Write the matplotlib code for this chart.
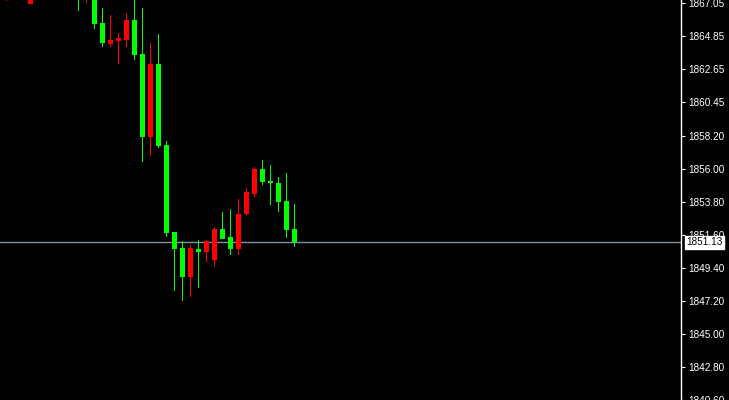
import numpy as np
import matplotlib
matplotlib.use("Agg")
import matplotlib.pyplot as plt
from matplotlib.collections import PolyCollection

# candle data (bars 0..36); the first bars sit above the visible window
opens = [1867.90, 1868.30, 1868.70, 1867.00, 1867.90, 1868.50, 1868.90, 1868.30, 1867.90, 1868.30,
         1867.45, 1867.70, 1865.73, 1864.33, 1864.53, 1864.60, 1865.93, 1863.66, 1858.13, 1863.00,
         1857.60, 1851.80, 1850.73, 1848.80, 1850.66, 1850.46, 1849.93, 1852.00, 1851.46, 1850.66,
         1853.00, 1854.33, 1856.00, 1855.20, 1855.06, 1853.86, 1852.00]
highs = [1868.60, 1869.00, 1869.20, 1868.40, 1868.80, 1869.30, 1869.40, 1868.70, 1868.60, 1868.60,
         1868.00, 1868.00, 1866.73, 1866.26, 1865.06, 1866.40, 1867.40, 1866.73, 1864.40, 1865.00,
         1857.86, 1851.80, 1851.20, 1850.93, 1851.26, 1851.26, 1852.13, 1853.13, 1853.33, 1854.00,
         1854.73, 1856.13, 1856.60, 1856.26, 1855.46, 1855.73, 1853.66]
lows = [1867.20, 1867.80, 1867.70, 1866.99, 1867.50, 1868.10, 1868.00, 1867.60, 1867.50, 1866.53,
        1867.06, 1865.33, 1864.13, 1864.13, 1863.00, 1864.13, 1863.26, 1856.46, 1856.86, 1857.40,
        1851.46, 1847.86, 1847.20, 1847.46, 1848.06, 1849.80, 1849.46, 1851.33, 1850.26, 1850.26,
        1852.93, 1854.13, 1854.93, 1853.60, 1853.13, 1851.40, 1850.80]
closes = [1868.30, 1868.70, 1868.00, 1867.90, 1868.50, 1868.90, 1868.30, 1867.90, 1868.30, 1867.50,
          1867.70, 1865.66, 1864.40, 1864.60, 1864.73, 1865.93, 1863.60, 1858.13, 1863.00, 1857.53,
          1851.73, 1850.66, 1848.80, 1850.73, 1850.46, 1851.20, 1852.00, 1851.33, 1850.66, 1853.00,
          1854.46, 1856.00, 1855.13, 1855.06, 1853.80, 1851.93, 1851.13]

last_price = 1851.13
tick_vals = [1867.05, 1864.85, 1862.65, 1860.45, 1858.20, 1856.00, 1853.80,
             1851.60, 1849.40, 1847.20, 1845.00, 1842.80, 1840.60]
tick_labels = ["%.2f" % v for v in tick_vals]

up_col = "#ff0000"    # rising bars drawn red in this terminal
down_col = "#00ff00"  # falling bars drawn green

W, H = 729, 400
fig = plt.figure(figsize=(W / 100, H / 100), dpi=100, facecolor="black")
ax = fig.add_axes([0, 0, 681 / W, 1])
ax.set_facecolor("black")

o = np.array(opens)
h = np.array(highs)
l = np.array(lows)
c = np.array(closes)
x = np.arange(len(o))
cols = [up_col if cc > oo else down_col for oo, cc in zip(o, c)]


def rects(xs, lo, hi, half):
    return [[(xi - half, b), (xi + half, b), (xi + half, t), (xi - half, t)]
            for xi, b, t in zip(xs, lo, hi)]


# wicks 1 px wide, bodies 5 px wide (bar spacing is 8 px)
wicks = PolyCollection(rects(x, l, h, 0.5 / 8), facecolors=cols,
                       edgecolors="none", linewidths=0, zorder=2)
ax.add_collection(wicks)

bottoms = np.minimum(o, c)
tops = np.maximum(np.maximum(o, c), bottoms + 0.07)
bodies = PolyCollection(rects(x, bottoms, tops, 2.5 / 8), facecolors=cols,
                        edgecolors="none", linewidths=0, zorder=3)
ax.add_collection(bodies)

ax.axhline(last_price, color="#8190a3", linewidth=1.0, zorder=1)

ax.set_xlim(-6.5 / 8, (681 - 6.5) / 8)
ax.set_ylim(last_price - 158 / 15, last_price + 242 / 15)

for s in ["left", "top", "bottom"]:
    ax.spines[s].set_visible(False)
ax.spines["right"].set_color("white")
ax.spines["right"].set_linewidth(1.0)
ax.set_xticks([])
ax.yaxis.tick_right()
ax.set_yticks(tick_vals)
ax.set_yticklabels(tick_labels)
ax.tick_params(axis="y", colors="white", length=3, width=0.8, pad=2,
               labelsize=7.2, labelcolor="white")
for t in ax.get_yticklabels():
    t.set_fontfamily("Liberation Sans")

ax.annotate("%.2f" % last_price, xy=(1, last_price),
            xycoords=("axes fraction", "data"), xytext=(4, 0),
            textcoords="offset points", va="center", ha="left",
            fontsize=7.2, family="Liberation Sans", color="black",
            bbox=dict(boxstyle="square,pad=0.15", fc="white", ec="white"),
            annotation_clip=False, zorder=5)

fig.savefig("out.png", dpi=100, facecolor="black")
